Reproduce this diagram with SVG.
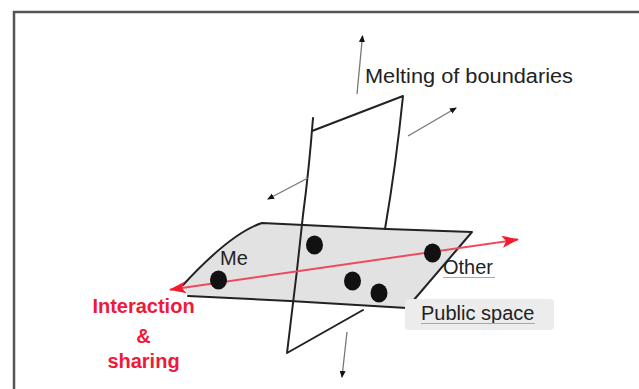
<svg xmlns="http://www.w3.org/2000/svg" width="639" height="389" viewBox="0 0 639 389">
<defs>
<style>
.ink{fill:none;stroke:#222;stroke-width:2;stroke-linejoin:round;stroke-linecap:round}
.thin{fill:none;stroke:#777;stroke-width:1.3}
.dot{fill:#111}
.lbl{font-family:"Liberation Sans",Arial,sans-serif;font-size:20px;fill:#222}
.red{font-family:"Liberation Sans",Arial,sans-serif;font-size:20px;font-weight:bold;fill:#f0193a}
.squig{fill:none;stroke:#e88aa0;stroke-width:1}
</style>
<marker id="ah" markerWidth="8" markerHeight="8" refX="6" refY="3" orient="auto" markerUnits="userSpaceOnUse">
<path d="M0,0 L7,3 L0,6 Z" fill="#111"/>
</marker>
<marker id="rh" markerWidth="20" markerHeight="14" refX="16" refY="6" orient="auto-start-reverse" markerUnits="userSpaceOnUse">
<path d="M0,0 L17,6 L0,12 L4,6 Z" fill="#f41c2c"/>
</marker>
</defs>
<rect width="639" height="389" fill="#fff"/>
<path d="M14,389 V12 H639" fill="none" stroke="#555" stroke-width="2.5"/>

<g id="public-space-plane">
<path d="M262,223 L387,229 L472,232 L407,308 L290,301 L188,296 L183,285 Q231,233 262,223 Z" fill="#e2e2e2"/>
<path class="ink" d="M183,285 Q231,233 262,223 L387,229 L472,232 L407,308 L290,301 L188,296"/>
</g>

<g id="boundary-plane">
<path class="ink" d="M313,118 Q309,170 303,215 L297,270 L287,353 L363,310"/>
<path class="ink" d="M312,131 L403,96 Q396,165 385,229"/>
</g>

<g id="connectors">
<line class="thin" x1="357" y1="94" x2="362.5" y2="36" marker-end="url(#ah)"/>
<line class="thin" x1="408" y1="136" x2="456" y2="108" marker-end="url(#ah)"/>
<line class="thin" x1="308" y1="178" x2="268" y2="199" marker-end="url(#ah)"/>
<line class="thin" x1="347" y1="332" x2="342" y2="377" marker-end="url(#ah)"/>
<line x1="170" y1="289.7" x2="518" y2="239.5" stroke="#ee4a5e" stroke-width="2" marker-start="url(#rh)" marker-end="url(#rh)"/>
</g>

<g id="me">
<ellipse class="dot" cx="218.5" cy="280" rx="8.5" ry="9.5"/>
<text class="lbl" x="220" y="265">Me</text>
</g>
<g id="person-2"><ellipse class="dot" cx="314.5" cy="245" rx="8.5" ry="9.5"/></g>
<g id="person-3"><ellipse class="dot" cx="352.5" cy="281" rx="8.5" ry="9.5"/></g>
<g id="person-4"><ellipse class="dot" cx="379" cy="293" rx="8.5" ry="9.5"/></g>
<g id="other">
<ellipse class="dot" cx="432.5" cy="253" rx="8.5" ry="9.5"/>
<text class="lbl" x="443" y="274">Other</text>
<path class="squig" d="M443,277.5 H495"/>
</g>

<g id="public-space-label">
<rect x="405" y="299" width="149" height="31" rx="4" fill="#ececec"/>
<text class="lbl" x="421" y="320">Public space</text>
<path class="squig" d="M421,323.5 H535"/>
</g>

<g id="melting-label">
<text class="lbl" x="365" y="83" font-size="21" textLength="208" lengthAdjust="spacingAndGlyphs">Melting of boundaries</text>
</g>

<g id="interaction-label">
<text class="red" x="143.5" y="313" text-anchor="middle">Interaction</text>
<text class="red" x="143.5" y="343" text-anchor="middle">&amp;</text>
<text class="red" x="143.5" y="368" text-anchor="middle">sharing</text>
</g>
</svg>
